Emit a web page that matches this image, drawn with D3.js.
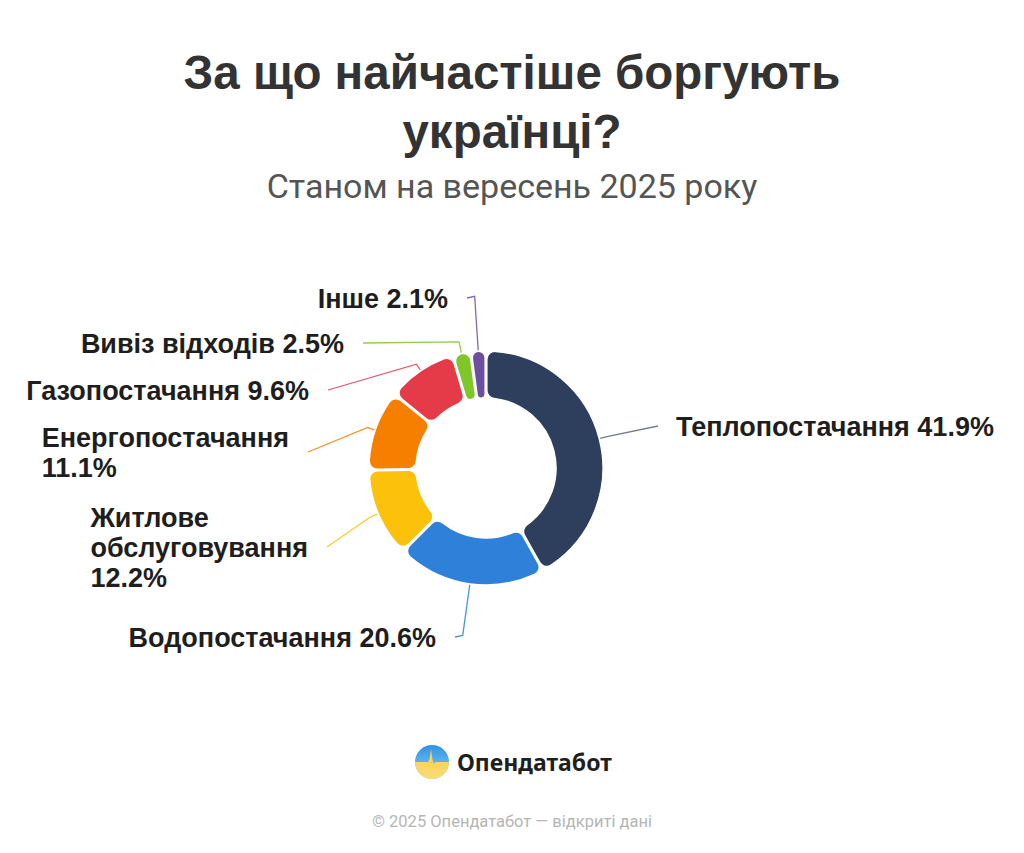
<!DOCTYPE html>
<html>
<head>
<meta charset="utf-8">
<script src="https://cdn.jsdelivr.net/npm/d3@7"></script>
<style>
  body { margin: 0; background: #fff; }
  svg { display: block; }
  .title { font-family: "Liberation Sans", Arial, sans-serif; font-weight: 700; fill: #333; }
  .subtitle { font-family: Roboto, sans-serif; fill: #555; }
  .label { font-family: "Liberation Sans", Arial, sans-serif; font-weight: 700; fill: #1e1e1e; }
</style>
</head>
<body>
<div id="chart"></div>
<script>
const width = 1024;
const height = 853;

// data
const categories = ['Теплопостачання', 'Водопостачання', 'Житлове обслуговування', 'Енергопостачання', 'Газопостачання', 'Вивіз відходів', 'Інше'];
const shares = [41.9, 20.6, 12.2, 11.1, 9.6, 2.5, 2.1];
const colors = ['#2e3f5e', '#2f80d8', '#fbc10b', '#f77f00', '#e53a48', '#7fc62b', '#6d4f9f'];
// how each label is broken into lines
const labelLines = [
    ['Теплопостачання 41.9%'],
    ['Водопостачання 20.6%'],
    ['Житлове', 'обслуговування', '12.2%'],
    ['Енергопостачання', '11.1%'],
    ['Газопостачання 9.6%'],
    ['Вивіз відходів 2.5%'],
    ['Інше 2.1%']
];

// label line layout: radial first leg, then end point relative to center
const leg1 = [8, 52, 10, 8, 8, 12, 55];
const lineEnd = [[172, -42], [-31, 169], [-159, 79], [-178, -16], [-158, -78], [-123, -125], [-19, -170]];

const cx = 486, cy = 468;
const rOuter = 117, rInner = 70;

const svg = d3.select('#chart')
    .append('svg')
        .attr('width', width)
        .attr('height', height);

svg.append('text')
    .attr('class', 'title')
    .attr('x', width / 2).attr('y', 89)
    .attr('text-anchor', 'middle')
    .attr('font-size', 47.5)
    .text('За що найчастіше боргують');
svg.append('text')
    .attr('class', 'title')
    .attr('x', width / 2).attr('y', 148)
    .attr('text-anchor', 'middle')
    .attr('font-size', 47.5)
    .text('українці?');
svg.append('text')
    .attr('class', 'subtitle')
    .attr('x', width / 2).attr('y', 198)
    .attr('text-anchor', 'middle')
    .attr('font-size', 34)
    .text('Станом на вересень 2025 року');

const pie = d3.pie().sort(null).value(d => d.value);
const slices = pie(shares.map((v, i) => ({ name: categories[i], value: v, i: i })));

const arc = d3.arc()
    .innerRadius(rInner)
    .outerRadius(rOuter)
    .cornerRadius(8)
    .padAngle(0.012);

const g = svg.append('g').attr('transform', `translate(${cx},${cy})`);

g.selectAll('path.slice')
    .data(slices)
    .enter()
    .append('path')
        .attr('class', 'slice')
        .attr('d', arc)
        .attr('fill', d => colors[d.data.i])
        .attr('stroke', '#fff')
        .attr('stroke-width', 1.5);

const polar = (a, r) => [Math.sin(a) * r, -Math.cos(a) * r];

g.selectAll('polyline')
    .data(slices)
    .enter()
    .append('polyline')
        .attr('fill', 'none')
        .attr('stroke', d => d.data.i === 0 ? '#5b6578' : colors[d.data.i])
        .attr('stroke-opacity', 0.85)
        .attr('stroke-width', 1.3)
        .attr('points', d => {
            const mid = (d.startAngle + d.endAngle) / 2;
            const a = polar(mid, rOuter + 1);
            const b = polar(mid, rOuter + leg1[d.data.i]);
            const c = lineEnd[d.data.i];
            return [a, b, c].map(p => p.join(',')).join(' ');
        });

const lineH = 30;
const labels = g.selectAll('text.label')
    .data(slices)
    .enter()
    .append('text')
        .attr('class', 'label')
        .attr('font-size', 27)
        .attr('y', d => lineEnd[d.data.i][1] - (labelLines[d.data.i].length - 1) * lineH / 2 + 10);

// left-aligned text block, placed beside the end of its line
labels.each(function (d) {
    const t = d3.select(this);
    const lines = labelLines[d.data.i];
    const spans = lines.map((s, k) => t.append('tspan')
        .attr('x', 0)
        .attr('dy', k === 0 ? 0 : lineH)
        .text(s));
    const w = d3.max(spans, s => s.node().getComputedTextLength());
    const end = lineEnd[d.data.i];
    const x0 = end[0] > 0 ? end[0] + 18 : end[0] - 19 - w;
    spans.forEach(s => s.attr('x', x0));
});

// logo: blue sky over yellow field with a pulse spike
const defs = svg.append('defs');
const sky = defs.append('linearGradient')
    .attr('id', 'sky')
    .attr('x1', 0).attr('y1', 0).attr('x2', 0).attr('y2', 1);
sky.append('stop').attr('offset', '0%').attr('stop-color', '#2f92e6');
sky.append('stop').attr('offset', '100%').attr('stop-color', '#8fd0f4');
const field = defs.append('linearGradient')
    .attr('id', 'field')
    .attr('x1', 0).attr('y1', 0).attr('x2', 0).attr('y2', 1);
field.append('stop').attr('offset', '0%').attr('stop-color', '#f6cf45');
field.append('stop').attr('offset', '100%').attr('stop-color', '#f9dc7a');
defs.append('clipPath').attr('id', 'logoClip')
    .append('circle').attr('r', 17);

const logo = svg.append('g').attr('transform', 'translate(432,762)');
const lg = logo.append('g').attr('clip-path', 'url(#logoClip)');
lg.append('rect').attr('x', -17).attr('y', -17).attr('width', 34).attr('height', 34).attr('fill', 'url(#sky)');
lg.append('path')
    .attr('fill', 'url(#field)')
    .attr('d', 'M-17,0 L-4,0 L-2.5,-3 L-1,-13 L0.5,-2 L2,2 L3.5,0 L17,0 L17,17 L-17,17 Z');

svg.append('text')
    .attr('x', 457).attr('y', 771)
    .attr('font-family', '"Noto Sans", sans-serif')
    .attr('font-weight', 700)
    .attr('font-size', 23)
    .attr('fill', '#1f1f1f')
    .text('Опендатабот');

svg.append('text')
    .attr('x', width / 2).attr('y', 827)
    .attr('text-anchor', 'middle')
    .attr('font-family', 'Roboto, sans-serif')
    .attr('font-size', 16.5)
    .attr('fill', '#b5b5b5')
    .text('© 2025 Опендатабот — відкриті дані');
</script>
</body>
</html>
